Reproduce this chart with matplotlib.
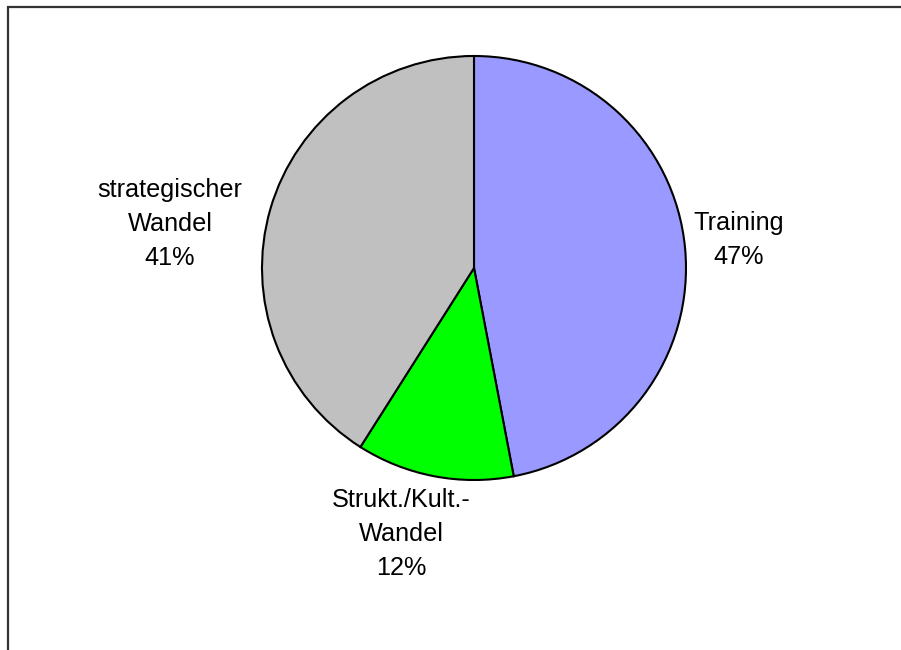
import matplotlib
matplotlib.use("Agg")
import matplotlib.pyplot as plt
from matplotlib.patches import Rectangle

plt.rcParams["font.family"] = ["Liberation Sans", "DejaVu Sans"]

# share of each category, drawn clockwise from 12 o'clock
categories = ["Training", "Strukt./Kult.-\nWandel", "strategischer\nWandel"]
shares = [47, 12, 41]
colors = ["#9999FF", "#00FF00", "#C0C0C0"]
# label anchors in figure pixels (x, y from top)
label_pos = [(739, 240), (401, 534), (170, 224)]

W, H = 901, 650
fig = plt.figure(figsize=(W / 100, H / 100), dpi=100)
ax = fig.add_axes([0, 0, 1, 1])

ax.pie(
    shares,
    colors=colors,
    startangle=90,
    counterclock=False,
    center=(474, H - 268),
    radius=212,
    frame=True,
    wedgeprops=dict(edgecolor="black", linewidth=1.5),
)
ax.set_xlim(0, W)
ax.set_ylim(0, H)
ax.set_aspect("equal")
ax.axis("off")

for name, val, (x, y) in zip(categories, shares, label_pos):
    ax.text(x, H - y, f"{name}\n{val}%", ha="center", va="center",
            fontsize=18.2, linespacing=1.53, color="black")

# chart area border, only the top and left edges fall inside the image
ax.add_patch(Rectangle((7.5, -50), 1200, H - 7 + 50, fill=False,
                       edgecolor="#333333", linewidth=1.6, clip_on=True))

fig.savefig("out.png", dpi=100)
